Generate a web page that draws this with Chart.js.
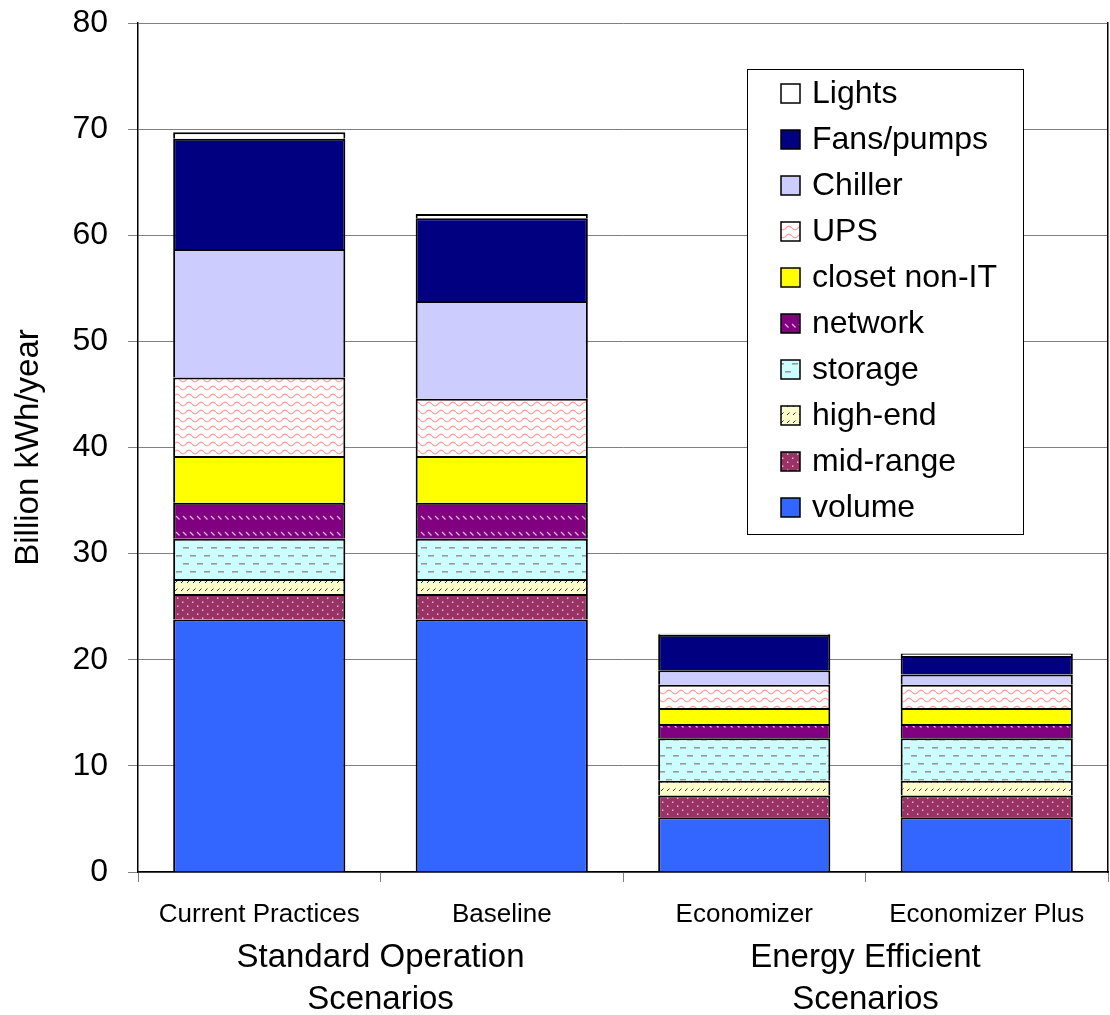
<!DOCTYPE html>
<html>
<head>
<meta charset="utf-8">
<title>Data center electricity use by scenario</title>
<script src="https://cdn.jsdelivr.net/npm/chart.js@4.4.1/dist/chart.umd.min.js"></script>
<style>
  body { margin: 0; background: #fff; }
  canvas { display: block; }
</style>
</head>
<body>
<canvas id="scenario-chart" width="1110" height="1015"></canvas>
<script>
const ctx = document.getElementById("scenario-chart");

// data (billion kWh/year, stacked bottom to top)
const scenarios = ["Current Practices", "Baseline", "Economizer", "Economizer Plus"];
const scenarioGroups = [["Standard Operation", "Scenarios"], ["Energy Efficient", "Scenarios"]];
const yMin = 0;
const yMax = 80;
const yStep = 10;

const volume = [23.8, 23.8, 5.15, 5.15];
const midRange = [2.4, 2.4, 2.05, 2.05];
const highEnd = [1.4, 1.4, 1.4, 1.4];
const storage = [3.8, 3.8, 4.0, 4.0];
const network = [3.4, 3.4, 1.35, 1.35];
const closetNonIT = [4.4, 4.4, 1.5, 1.5];
const ups = [7.4, 5.4, 2.2, 2.2];
const chiller = [12.1, 9.2, 1.35, 0.95];
const fansPumps = [10.4, 7.8, 3.35, 1.75];
const lights = [0.6, 0.4, 0.1, 0.25];

Chart.defaults.font.family = "'Liberation Sans', Arial, sans-serif";
Chart.defaults.color = "#000";

// fill patterns like the old excel ones
function makePattern(w, h, bg, draw) {
  const c = document.createElement("canvas");
  c.width = w;
  c.height = h;
  const g = c.getContext("2d");
  g.fillStyle = bg;
  g.fillRect(0, 0, w, h);
  draw(g);
  return g.createPattern(c, "repeat");
}

const upsFill = makePattern(12, 8, "#ffffff", (g) => {
  g.strokeStyle = "#ff9c9c";
  g.lineWidth = 1.2;
  g.beginPath();
  for (let x = 0; x <= 12; x++) {
    const y = 4 + 1.8 * Math.sin((x / 12) * Math.PI * 2);
    if (x === 0) g.moveTo(x, y);
    else g.lineTo(x, y);
  }
  g.stroke();
});

const networkFill = makePattern(7, 16, "#800080", (g) => {
  g.strokeStyle = "#e8b8e8";
  g.lineWidth = 1.2;
  g.beginPath();
  g.moveTo(1, 4);
  g.lineTo(4.5, 7.5);
  g.stroke();
});

const storageFill = makePattern(14, 16, "#ccffff", (g) => {
  g.fillStyle = "#999999";
  g.fillRect(1, 3, 6, 1.6);
  g.fillRect(8, 11, 6, 1.6);
});

const highEndFill = makePattern(6, 8, "#ffffcc", (g) => {
  g.strokeStyle = "#333333";
  g.lineWidth = 1;
  g.beginPath();
  g.moveTo(1, 7);
  g.lineTo(3.5, 4.5);
  g.stroke();
});

const midRangeFill = makePattern(10, 8, "#993366", (g) => {
  g.fillStyle = "#f2c6e0";
  g.fillRect(2, 1.5, 1.4, 1.4);
  g.fillRect(7, 5.5, 1.4, 1.4);
});

// legend box drawn inside the plot
const legendBox = {
  id: "legendBox",
  afterDraw(chart) {
    const c = chart.ctx;
    const area = chart.chartArea;
    const x = area.right - 361;
    const y = area.top + 46;
    const w = 276;
    const h = 465;
    c.save();
    c.fillStyle = "#fff";
    c.fillRect(x, y, w, h);
    c.strokeStyle = "#000";
    c.lineWidth = 1;
    c.strokeRect(x + 0.5, y + 0.5, w, h);
    c.font = "32px 'Liberation Sans', Arial, sans-serif";
    c.textBaseline = "middle";
    const items = chart.data.datasets.slice().reverse();
    items.forEach((ds, i) => {
      const cy = y + 24 + i * 46;
      c.fillStyle = ds.backgroundColor;
      c.fillRect(x + 34, cy - 9, 19, 19);
      c.lineWidth = 1.5;
      c.strokeStyle = "#000";
      c.strokeRect(x + 34, cy - 9, 19, 19);
      c.fillStyle = "#000";
      c.fillText(ds.label, x + 65, cy + 1);
    });
    c.restore();
  },
};

function bar(label, data, fill) {
  return {
    label: label,
    data: data,
    backgroundColor: fill,
    borderColor: "#000",
    borderWidth: 2,
  };
}

new Chart(ctx, {
  type: "bar",
  data: {
    labels: scenarios,
    datasets: [
      bar("volume", volume, "#3366ff"),
      bar("mid-range", midRange, midRangeFill),
      bar("high-end", highEnd, highEndFill),
      bar("storage", storage, storageFill),
      bar("network", network, networkFill),
      bar("closet non-IT", closetNonIT, "#ffff00"),
      bar("UPS", ups, upsFill),
      bar("Chiller", chiller, "#ccccff"),
      bar("Fans/pumps", fansPumps, "#000080"),
      bar("Lights", lights, "#ffffff"),
    ],
  },
  options: {
    responsive: false,
    animation: false,
    categoryPercentage: 0.71,
    barPercentage: 1,
    layout: {
      padding: { top: 23, right: 2, left: 0, bottom: 0 },
    },
    plugins: {
      legend: { display: false },
      tooltip: { enabled: false },
    },
    scales: {
      x: {
        stacked: true,
        ticks: { font: { size: 26 }, padding: 17 },
        grid: {
          drawOnChartArea: false,
          offset: true,
          tickLength: 10,
          color: "#808080",
        },
        border: { color: "#000", width: 1.5 },
        afterFit(s) {
          s.height = 60;
        },
      },
      x2: {
        type: "category",
        labels: scenarioGroups,
        position: "bottom",
        grid: { display: false },
        border: { display: false },
        ticks: { font: { size: 33, lineHeight: 1.27 }, padding: -3 },
        afterFit(s) {
          s.height = 83;
        },
      },
      y: {
        stacked: true,
        min: yMin,
        max: yMax,
        ticks: { stepSize: yStep, font: { size: 32 }, padding: 20 },
        grid: { color: "#808080", tickLength: 10 },
        border: { color: "#000", width: 1.5 },
        title: {
          display: true,
          text: "Billion kWh/year",
          font: { size: 33 },
          padding: { top: 9, bottom: 0 },
        },
        afterFit(s) {
          s.width = 138;
          // top label may poke above the plot, like the original
          s.paddingTop = 0;
          s.paddingBottom = 0;
        },
      },
      y2: {
        position: "right",
        ticks: { display: false },
        grid: { drawOnChartArea: false, drawTicks: false },
        border: { color: "#000", width: 1.5 },
        afterFit(s) {
          s.width = 0;
        },
      },
    },
  },
  plugins: [legendBox],
});
</script>
</body>
</html>
